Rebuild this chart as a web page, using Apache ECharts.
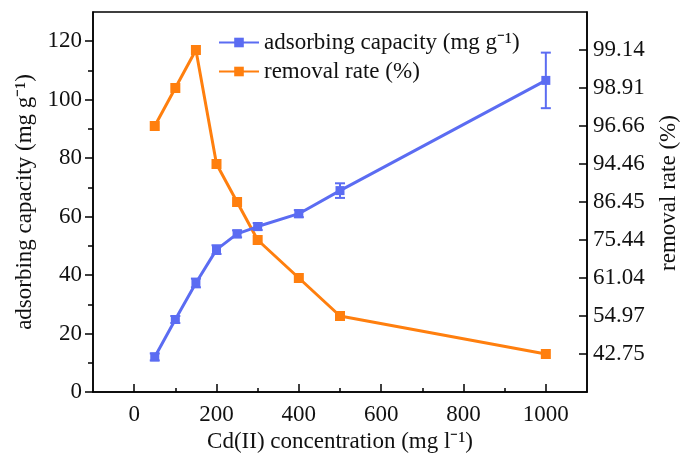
<!DOCTYPE html>
<html>
<head>
<meta charset="utf-8">
<script src="https://cdn.jsdelivr.net/npm/echarts@6/dist/echarts.min.js"></script>
<style>
  html, body { margin: 0; padding: 0; background: #fff; }
  #main { width: 684px; height: 458px; }
</style>
</head>
<body>
<div id="main"></div>
<script>
// concentration of Cd(II), mg/l
var concentration = [50, 100, 150, 200, 250, 300, 400, 500, 1000];
// adsorbing capacity, mg/g, with error bar half-widths
var capacity = [12, 24.8, 37.3, 48.7, 54.1, 56.6, 61, 68.9, 106.6];
var capacityErr = [1.2, 1.2, 1.5, 1.5, 1.2, 1.2, 1.2, 2.5, 9.5];
// removal rate (%) for each concentration
var removalRate = ['96.66', '98.91', '99.14', '94.46', '86.45', '75.44', '61.04', '54.97', '42.75'];
// right axis labels, bottom to top (evenly spaced on the original figure)
var rateTicks = ['42.75', '54.97', '61.04', '75.44', '86.45', '94.46', '96.66', '98.91', '99.14'];

var xMajor = [0, 200, 400, 600, 800, 1000];
var xMinor = [100, 300, 500, 700, 900];
var yMajor = [0, 20, 40, 60, 80, 100, 120];
var yMinor = [10, 30, 50, 70, 90, 110];

var blue = '#5b6cf2';
var orange = '#ff7f0e';
var font = '"Liberation Serif", "Times New Roman", serif';

var chart = echarts.init(document.getElementById('main'));

var capData = concentration.map(function (c, i) { return [c, capacity[i]]; });
var errData = concentration.map(function (c, i) {
    return [c, capacity[i] - capacityErr[i], capacity[i] + capacityErr[i]];
});
var rateData = concentration.map(function (c, i) { return [c, removalRate[i]]; });

var txt = { fontFamily: font, fontSize: 23, color: '#111' };
var black = { color: '#000', width: 1.5 };

var option = {
    animation: false,
    grid: {
        left: 93, right: 97, top: 12, bottom: 66,
        outerBoundsMode: 'none',
        show: true, borderColor: '#000', borderWidth: 1.5
    },
    legend: {
        orient: 'vertical',
        left: 213,
        top: 26,
        itemWidth: 40,
        itemHeight: 12,
        itemGap: 6,
        data: ['adsorbing capacity (mg g⁻¹)', 'removal rate (%)'],
        textStyle: txt
    },
    xAxis: [{
        type: 'value',
        min: -100, max: 1100,
        name: 'Cd(II) concentration (mg l⁻¹)',
        nameLocation: 'middle',
        nameGap: 36,
        nameTextStyle: txt,
        splitLine: { show: false },
        axisLine: { onZero: false, lineStyle: black },
        axisTick: { inside: true, length: 8, customValues: xMajor, lineStyle: black },
        axisLabel: Object.assign({ customValues: xMajor, margin: 11, formatter: function (v) { return String(v); } }, txt)
    }, {
        type: 'value',
        min: -100, max: 1100,
        position: 'bottom',
        splitLine: { show: false },
        axisLine: { show: false, onZero: false },
        axisTick: { inside: true, length: 4, customValues: xMinor, lineStyle: black },
        axisLabel: { show: false }
    }],
    yAxis: [{
        type: 'value',
        min: 0, max: 130,
        name: 'adsorbing capacity (mg g⁻¹)',
        nameLocation: 'middle',
        nameRotate: 90,
        nameGap: 57,
        nameTextStyle: txt,
        splitLine: { show: false },
        axisLine: { show: true, onZero: false, lineStyle: black },
        axisTick: { length: 8, customValues: yMajor, lineStyle: black },
        axisLabel: Object.assign({ customValues: yMajor, margin: 11 }, txt)
    }, {
        type: 'category',
        position: 'right',
        boundaryGap: false,
        data: [''].concat(rateTicks, ['']),
        name: 'removal rate (%)',
        nameLocation: 'middle',
        nameRotate: 90,
        nameGap: 70,
        nameTextStyle: Object.assign({ padding: [0, 0, 0, 18] }, txt),
        splitLine: { show: false },
        axisLine: { show: true, onZero: false, lineStyle: black },
        axisTick: {
            inside: true, length: 8,
            interval: function (idx, val) { return val !== ''; },
            lineStyle: black
        },
        axisLabel: Object.assign({ interval: 0, margin: 6 }, txt)
    }, {
        type: 'value',
        min: 0, max: 130,
        position: 'left',
        splitLine: { show: false },
        axisLine: { show: false, onZero: false },
        axisTick: { length: 5, customValues: yMinor, lineStyle: black },
        axisLabel: { show: false }
    }],
    series: [{
        name: 'adsorbing capacity (mg g⁻¹)',
        type: 'line',
        xAxisIndex: 0,
        yAxisIndex: 0,
        data: capData,
        symbol: 'rect',
        symbolSize: 9,
        z: 3,
        lineStyle: { color: blue, width: 3 },
        itemStyle: { color: blue }
    }, {
        type: 'custom',
        xAxisIndex: 0,
        yAxisIndex: 0,
        data: errData,
        z: 4,
        renderItem: function (params, api) {
            var lo = api.coord([api.value(0), api.value(1)]);
            var hi = api.coord([api.value(0), api.value(2)]);
            var w = 5;
            var st = { stroke: blue, lineWidth: 2 };
            return {
                type: 'group',
                children: [
                    { type: 'line', shape: { x1: lo[0], y1: lo[1], x2: hi[0], y2: hi[1] }, style: st },
                    { type: 'line', shape: { x1: lo[0] - w, y1: lo[1], x2: lo[0] + w, y2: lo[1] }, style: st },
                    { type: 'line', shape: { x1: hi[0] - w, y1: hi[1], x2: hi[0] + w, y2: hi[1] }, style: st }
                ]
            };
        }
    }, {
        name: 'removal rate (%)',
        type: 'line',
        xAxisIndex: 0,
        yAxisIndex: 1,
        data: rateData,
        symbol: 'rect',
        symbolSize: 10,
        z: 2,
        lineStyle: { color: orange, width: 3 },
        itemStyle: { color: orange }
    }]
};

chart.setOption(option);
</script>
</body>
</html>
